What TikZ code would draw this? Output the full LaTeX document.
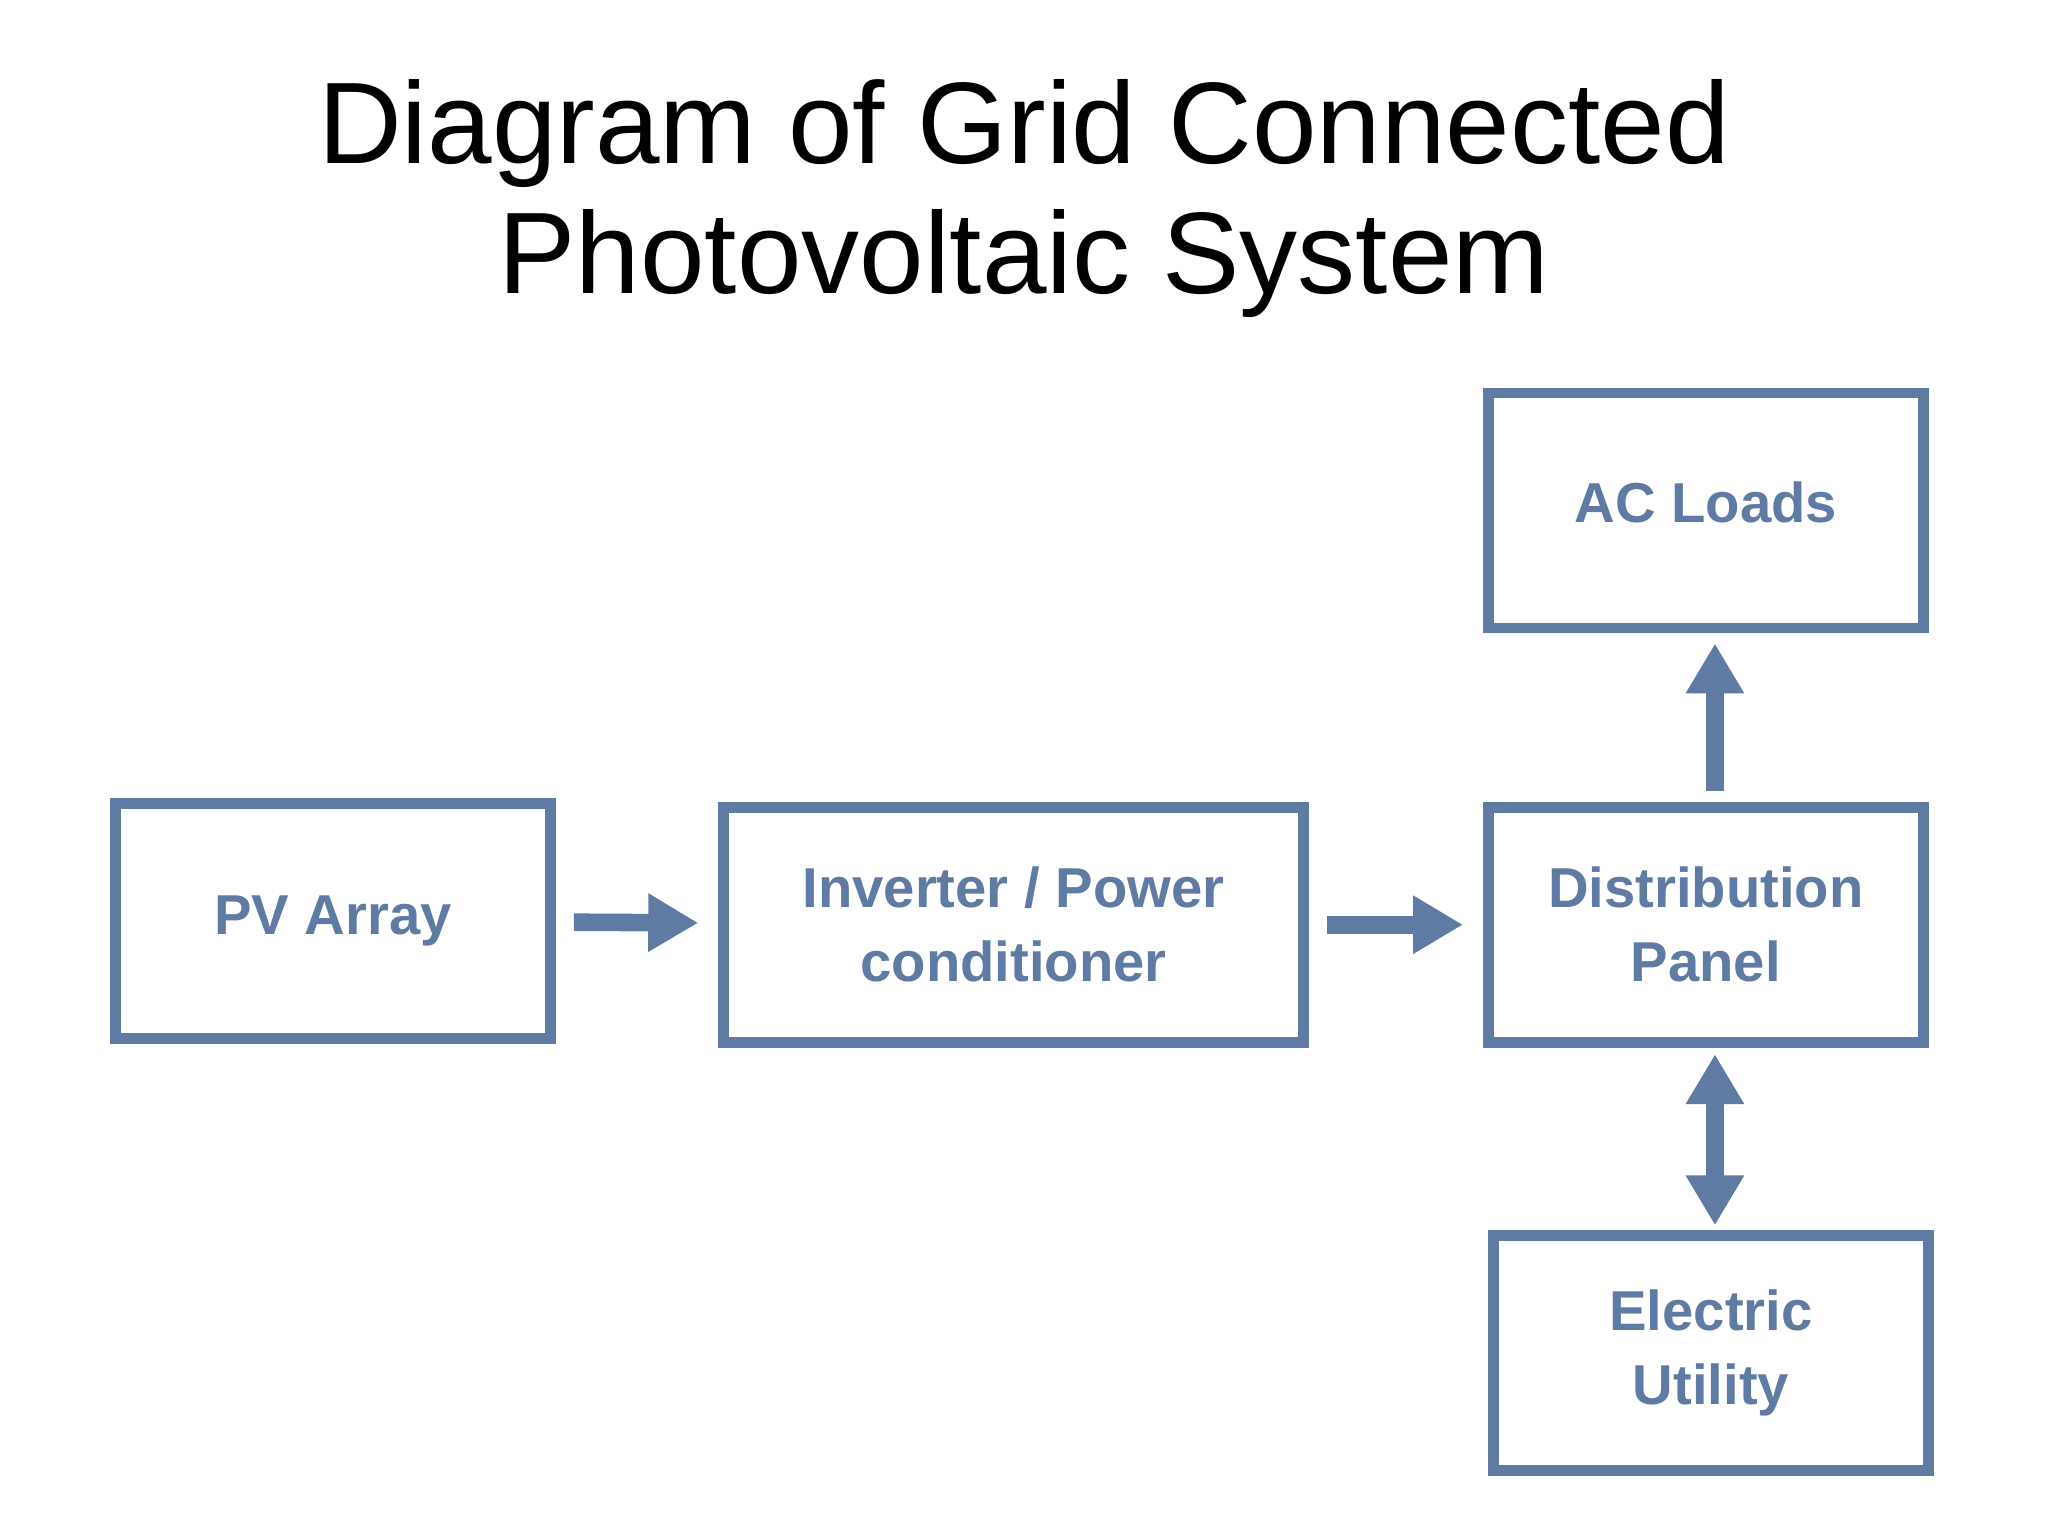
\documentclass[tikz,border=0pt]{standalone}
\usepackage{fontspec}
\setmainfont{Liberation Sans}
\usetikzlibrary{arrows.meta,positioning}
\definecolor{boxblue}{HTML}{5F7AA3}
\begin{document}
\begin{tikzpicture}[x=0.01306cm, y=-0.01306cm,
    block/.style={rectangle, draw=boxblue, line width=3pt, fill=white, minimum width=4.35cm, minimum height=2.35cm, align=center, text=boxblue, font=\bfseries\fontsize{16}{21}\selectfont},
    flow/.style={draw=boxblue, line width=5pt, -{Triangle[length=0.5cm,width=0.55cm]}, shorten <=0.18cm, shorten >=0.2cm}]
    \useasboundingbox (0,0) rectangle (1568,1176);
    % Titel
    \node (title) at (784,152) [align=center, font=\fontsize{33}{37}\selectfont] {Diagram of Grid Connected\\Photovoltaic System};
    % Kotak-kotak
    \node (pv) at (255,705) [block] {PV Array};
    \node (inv) at (776,708) [block, minimum width=5.8cm] {Inverter / Power\\conditioner};
    \node (dist) at (1306,708) [block] {Distribution\\Panel};
    \node (ac) at (1306,391) [block] {\raisebox{0.18cm}{AC Loads}};
    \node (util) at (1310,1036) [block] {Electric\\Utility};
    % Panah
    \coordinate (up) at (1313,616);
    \coordinate (down) at (1313,801);
    \draw [flow] (pv) -- (inv);
    \draw [flow] (inv) -- (dist);
    \draw [flow, shorten <=0.14cm, shorten >=0.1cm] (up) -- (up |- ac.south);
    \draw [flow, {Triangle[length=0.5cm,width=0.55cm]}-{Triangle[length=0.5cm,width=0.55cm]}, shorten <=0.08cm, shorten >=0.05cm] (down) -- (down |- util.north);
\end{tikzpicture}
\end{document}
